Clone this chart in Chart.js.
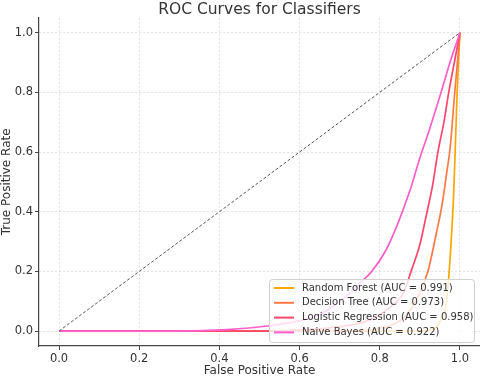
<!DOCTYPE html>
<html>
<head>
<meta charset="utf-8">
<script src="https://cdn.jsdelivr.net/npm/chart.js@4"></script>
<style>
  body { margin: 0; background: #fff; }
</style>
</head>
<body>
<canvas id="rocChart" width="480" height="378"></canvas>
<script>
// values
const classifiers = ['Random Forest', 'Decision Tree', 'Logistic Regression', 'Naive Bayes'];
const aucScores = [0.991, 0.973, 0.958, 0.922];

const fprRF = [0, 0.9, 0.93, 0.945, 0.955, 0.964, 0.972, 0.978, 0.984, 0.988, 0.993, 0.997, 1.0];
const tprRF = [0, 0, 0.005, 0.02, 0.045, 0.08, 0.18, 0.3, 0.45, 0.6, 0.8, 0.92, 1.0];

const fprDT = [0, 0.7, 0.78, 0.83, 0.86, 0.89, 0.92, 0.943, 0.955, 0.967, 0.976, 0.987, 0.995, 1.0];
const tprDT = [0, 0, 0.005, 0.02, 0.045, 0.1, 0.2, 0.34, 0.42, 0.53, 0.62, 0.8, 0.92, 1.0];

const fprLR = [0, 0.5, 0.62, 0.7, 0.76, 0.8, 0.835, 0.86, 0.878, 0.9, 0.918, 0.932, 0.945, 0.96, 0.972, 0.986, 1.0];
const tprLR = [0, 0, 0.005, 0.015, 0.03, 0.055, 0.09, 0.13, 0.2, 0.29, 0.4, 0.49, 0.6, 0.7, 0.8, 0.9, 1.0];

const fprNB = [0, 0.3, 0.42, 0.52, 0.6, 0.65, 0.71, 0.75, 0.78, 0.815, 0.845, 0.875, 0.9, 0.925, 0.953, 0.975, 1.0];
const tprNB = [0, 0, 0.005, 0.017, 0.035, 0.055, 0.11, 0.16, 0.2, 0.27, 0.36, 0.47, 0.58, 0.68, 0.8, 0.9, 1.0];

const chanceX = [0, 1];
const chanceY = [0, 1];

const xTicks = [0, 0.2, 0.4, 0.6, 0.8, 1.0];
const yTicks = [0, 0.2, 0.4, 0.6, 0.8, 1.0];

const colors = ['#ffa500', '#ff7845', '#ff476c', '#ff5ecb'];

function toPoints(xs, ys) {
  return xs.map((x, i) => ({ x: x, y: ys[i] }));
}

const curves = [[fprRF, tprRF], [fprDT, tprDT], [fprLR, tprLR], [fprNB, tprNB]];

const datasets = curves.map((c, i) => ({
  label: classifiers[i] + ' (AUC = ' + aucScores[i].toFixed(3) + ')',
  data: toPoints(c[0], c[1]),
  borderColor: colors[i],
  borderWidth: 1.7,
  pointRadius: 0,
  fill: false,
  cubicInterpolationMode: 'monotone',
  order: 4 - i
}));

datasets.push({
  label: 'chance',
  data: toPoints(chanceX, chanceY),
  borderColor: '#555',
  borderWidth: 1,
  borderDash: [3, 2],
  pointRadius: 0,
  fill: false,
  order: 0
});

// legend drawn inside the plot, lower right, like matplotlib's
const innerLegend = {
  id: 'innerLegend',
  afterDraw(chart) {
    const ctx = chart.ctx;
    const area = chart.chartArea;
    const w = 205, h = 63;
    const x0 = area.right - w - 6;
    const y0 = area.bottom - h - 4;
    ctx.save();
    ctx.fillStyle = 'rgba(255,255,255,0.8)';
    ctx.strokeStyle = '#d0d0d0';
    ctx.lineWidth = 1;
    ctx.beginPath();
    ctx.roundRect(x0 + 0.5, y0 + 0.5, w, h, 3);
    ctx.fill();
    ctx.stroke();
    ctx.font = '10px "DejaVu Sans"';
    ctx.textBaseline = 'middle';
    ctx.fillStyle = '#333';
    chart.data.datasets.slice(0, classifiers.length).forEach((ds, i) => {
      const yy = y0 + 9 + i * 14.8;
      ctx.strokeStyle = ds.borderColor;
      ctx.lineWidth = 2;
      ctx.beginPath();
      ctx.moveTo(x0 + 5, yy);
      ctx.lineTo(x0 + 25, yy);
      ctx.stroke();
      ctx.fillText(ds.label, x0 + 33, yy);
    });
    ctx.restore();
  }
};

Chart.defaults.font.family = '"DejaVu Sans", sans-serif';
Chart.defaults.color = '#333';

const ctx = document.getElementById('rocChart').getContext('2d');
new Chart(ctx, {
  type: 'line',
  data: { datasets: datasets },
  options: {
    responsive: false,
    animation: false,
    layout: { padding: 0 },
    plugins: {
      legend: { display: false },
      tooltip: { enabled: false },
      title: {
        display: true,
        text: 'ROC Curves for Classifiers',
        fullSize: false,
        color: '#333',
        font: { size: 15.5, weight: 'normal', lineHeight: 0.95 },
        padding: { top: 3, bottom: 0 }
      }
    },
    scales: {
      x: {
        type: 'linear',
        min: -0.05,
        max: 1.05,
        afterBuildTicks: s => { s.ticks = xTicks.map(v => ({ value: v })); },
        afterFit: s => { s.height = 32; },
        ticks: {
          callback: v => v.toFixed(1),
          font: { size: 11.5 },
          color: '#333',
          padding: 2,
          maxRotation: 0
        },
        grid: {
          color: '#d9d9d9',
          lineWidth: 0.8,
          tickLength: 4,
          tickColor: '#444',
          tickWidth: 1
        },
        border: { display: true, color: '#444', width: 1.2, dash: [2, 2] },
        title: {
          display: true,
          text: 'False Positive Rate',
          font: { size: 12 },
          color: '#333',
          padding: { top: 0, bottom: 0 }
        }
      },
      y: {
        type: 'linear',
        min: -0.05,
        max: 1.05,
        afterBuildTicks: s => { s.ticks = yTicks.map(v => ({ value: v })); },
        afterFit: s => { s.width = 39; },
        ticks: {
          callback: v => v.toFixed(1),
          font: { size: 11.5 },
          color: '#333',
          padding: 2
        },
        grid: {
          color: '#d9d9d9',
          lineWidth: 0.8,
          tickLength: 4,
          tickColor: '#444',
          tickWidth: 1
        },
        border: { display: true, color: '#444', width: 1.2, dash: [2, 2] },
        title: {
          display: true,
          text: 'True Positive Rate',
          font: { size: 12 },
          color: '#333',
          padding: { top: 0, bottom: 0 }
        }
      }
    }
  },
  plugins: [innerLegend]
});
</script>
</body>
</html>
